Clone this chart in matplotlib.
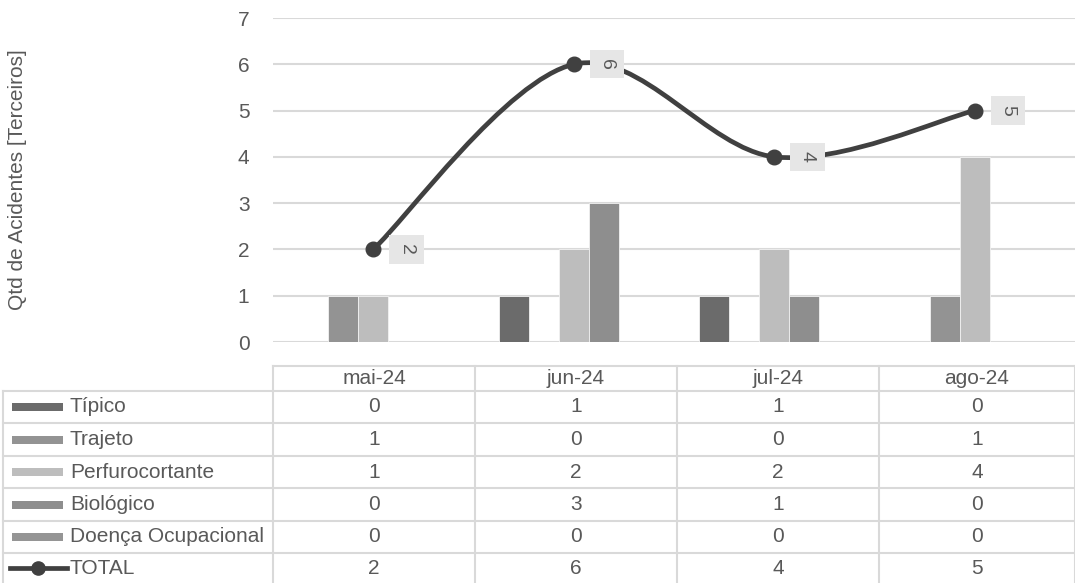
import matplotlib
matplotlib.use("Agg")
import matplotlib.pyplot as plt
from matplotlib.path import Path
from matplotlib.patches import PathPatch, Rectangle
from matplotlib.lines import Line2D
import numpy as np

plt.rcParams["font.family"] = ["Liberation Sans", "DejaVu Sans"]

# ── Data ─────────────────────────────────────────────────────────────
months = ["mai-24", "jun-24", "jul-24", "ago-24"]
series_names = ["Típico", "Trajeto", "Perfurocortante", "Biológico", "Doença Ocupacional"]
tipico = [0, 1, 1, 0]
trajeto = [1, 0, 0, 1]
perfuro = [1, 2, 2, 4]
biologico = [0, 3, 1, 0]
doenca = [0, 0, 0, 0]
total = [2, 6, 4, 5]

series_vals = [tipico, trajeto, perfuro, biologico, doenca]
colors = ["#6b6b6b", "#939393", "#bdbdbd", "#8e8e8e", "#959595"]
line_color = "#404040"
text_color = "#595959"
grid_color = "#d9d9d9"
fs = 15

W, H = 1075, 583
fig = plt.figure(figsize=(W / 100, H / 100), dpi=100)

# plot area in pixels
left, right, top, bottom = 273, 1075, 18, 342
ax = fig.add_axes([left / W, 1 - bottom / H, (right - left) / W, (bottom - top) / H])

x = np.arange(len(months))
bw = 0.15
for i, (name, vals) in enumerate(zip(series_names, series_vals)):
    ax.bar(x + (i - 2) * bw, vals, width=bw, color=colors[i],
           edgecolor="#f2f2f2", linewidth=0.6, zorder=2)

# smoothed total line (Excel-style bezier)
pts = np.column_stack([x, total]).astype(float)
ext = np.vstack([pts[0], pts, pts[-1]])
verts = [tuple(pts[0])]
codes = [Path.MOVETO]
for k in range(len(pts) - 1):
    p0, p1, p2, p3 = ext[k], ext[k + 1], ext[k + 2], ext[k + 3]
    c1 = p1 + (p2 - p0) / 6
    c2 = p2 - (p3 - p1) / 6
    verts += [tuple(c1), tuple(c2), tuple(p2)]
    codes += [Path.CURVE4] * 3
ax.add_patch(PathPatch(Path(verts, codes), facecolor="none", edgecolor=line_color,
                       linewidth=3.4, zorder=3, capstyle="round"))
ax.plot(x, total, linestyle="none", marker="o", markersize=10.5, color=line_color, zorder=4)

for xi, v in zip(x, total):
    ax.annotate(str(v), xy=(xi, v), xytext=(33, 0), textcoords="offset pixels",
                ha="center", va="center", rotation=-90, fontsize=14, color=text_color,
                bbox=dict(boxstyle="square,pad=0.45", facecolor="#e6e6e6", edgecolor="none"),
                zorder=5)

ax.set_xlim(-0.5, 3.5)
ax.set_ylim(0, 7)
ax.set_yticks(range(0, 8))
ax.set_xticks([])
ax.yaxis.grid(True, color=grid_color, linewidth=1.5, zorder=0)
ax.set_axisbelow(True)
for s in ax.spines.values():
    s.set_visible(False)
ax.tick_params(axis="y", length=0, pad=17, labelsize=fs, labelcolor=text_color)
ax.tick_params(axis="x", length=0)

fig.text(18 / W, 1 - 180 / H, "Qtd de Acidentes [Terceiros]", rotation=90,
         ha="center", va="center", fontsize=fs, color=text_color)

# ── Data table (pixel overlay) ───────────────────────────────────────
tab = fig.add_axes([0, 0, 1, 1])
tab.set_xlim(0, W)
tab.set_ylim(H, 0)
tab.axis("off")

col_x = [273, 475, 677, 879, 1075]
row_y = [366, 391, 423, 456, 488, 521, 553, 583]
lw = 1.5

tab.plot([col_x[0], col_x[-1]], [row_y[0]] * 2, color=grid_color, lw=lw)
for yy in row_y[1:-1]:
    tab.plot([3, col_x[-1]], [yy, yy], color=grid_color, lw=lw)
for xx in col_x:
    tab.plot([xx, xx], [row_y[0], H], color=grid_color, lw=lw)
tab.plot([3, 3], [row_y[1], H], color=grid_color, lw=lw)

for j, m in enumerate(months):
    cx = (col_x[j] + col_x[j + 1]) / 2
    tab.text(cx, (row_y[0] + row_y[1]) / 2, m, ha="center", va="center",
             fontsize=fs, color=text_color)

row_names = series_names + ["TOTAL"]
row_vals = series_vals + [total]
for r, (name, vals) in enumerate(zip(row_names, row_vals)):
    cy = (row_y[r + 1] + row_y[r + 2]) / 2
    if r < len(series_names):
        tab.add_patch(Rectangle((12, cy - 4), 51, 8, facecolor=colors[r], edgecolor="none"))
    else:
        tab.add_line(Line2D([10, 67], [cy, cy], color=line_color, lw=3.4))
        tab.plot([38], [cy], marker="o", markersize=9.5, color=line_color)
    tab.text(70, cy, name, ha="left", va="center", fontsize=fs, color=text_color)
    for j, v in enumerate(vals):
        cx = (col_x[j] + col_x[j + 1]) / 2
        tab.text(cx, cy, str(v), ha="center", va="center", fontsize=fs, color=text_color)

fig.savefig("out.png", dpi=100)
